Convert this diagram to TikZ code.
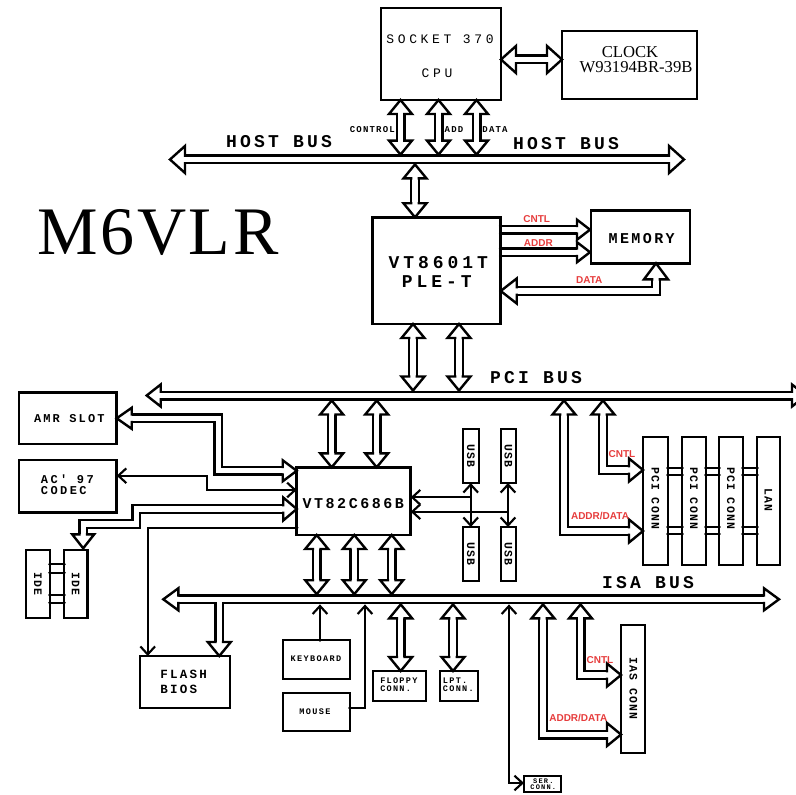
\documentclass[tikz,border=0pt]{standalone}
\usepackage{fontspec}
\usetikzlibrary{arrows.meta}
\newfontfamily\cour{Liberation Mono}
\newfontfamily\arialf{Liberation Sans}
\newfontfamily\timesf{Liberation Serif}
\definecolor{lblred}{RGB}{230,60,60}
\newcommand\bhx[5]{%
  \begin{scope}[shift={(#1,#2)},rotate=#3]
    \fill[white] (0,0) -- (-#4,#5) -- (-#4,-#5) -- cycle;
    \draw[headline] (-#4,3.8) -- (-#4,#5) -- (0,0) -- (-#4,-#5) -- (-#4,-3.8);
  \end{scope}}
\newcommand\bh[3]{\bhx{#1}{#2}{#3}{14}{11.5}}
\newcommand\bx[6]{\node[box,minimum width={(#4-#2)*0.75pt},minimum height={(#5-#3)*0.75pt}] (#1) at ({(#2+#4)/2},{(#3+#5)/2}) {#6};}
\begin{document}
\begin{tikzpicture}[x=0.75pt,y=-0.75pt,
  bus/.style={draw, double=white, double distance=3.9pt, line width=1.8pt, line join=miter},
  headline/.style={line width=1.8pt, line join=miter, line cap=rect},
  box/.style={draw, line width=2.2pt, inner sep=0pt, outer sep=0pt},
  thinln/.style={line width=1.6pt},
  oneway/.style={thinln, -{Straight Barb[length=6pt,width=11pt]}},
  twoway/.style={thinln, {Straight Barb[length=6pt,width=11pt]}-{Straight Barb[length=6pt,width=11pt]}},
  mono/.style 2 args={font=\cour\bfseries\fontsize{#1}{#1}\selectfont\addfontfeatures{LetterSpace=#2}, inner sep=0pt},
  monor/.style 2 args={font=\cour\fontsize{#1}{#1}\selectfont\addfontfeatures{LetterSpace=#2}, inner sep=0pt},
  redlbl/.style={font=\arialf\bfseries\fontsize{7.5}{7.5}\selectfont, text=lblred, inner sep=0pt},
  serif/.style={font=\timesf\fontsize{12.5}{12.5}\selectfont, inner sep=0pt}
]
\useasboundingbox (0,0) rectangle (796,795);
\clip (0,0) rectangle (796,795);

% ---------- buses ----------
\draw[bus] (185,159.5) -- (669,159.5);
\draw[bus] (160.7,395.5) -- (792,395.5);
\draw[bus] (178.3,599.3) -- (764,599.3);

% ---------- hollow shafts ----------
\draw[bus] (516,59.5) -- (547,59.5);
\foreach \x in {400.5,438.5,476.5} \draw[bus] (\x,114) -- (\x,140.8);
\draw[bus] (415,178.2) -- (415,203.3);
\draw[bus] (500.7,229.7) -- (577,229.7);
\draw[bus] (500.7,252.2) -- (577,252.2);
\draw[bus] (656,279.3) -- (656,291) -- (516.7,291);
\foreach \x in {413,459} \draw[bus] (\x,338) -- (\x,376.7);
\foreach \x in {331.7,376.7} \draw[bus] (\x,414.3) -- (\x,453.3);
\draw[bus] (131.7,418.3) -- (218.3,418.3) -- (218.3,470.8) -- (282.7,470.8);
\draw[bus] (283.2,509) -- (136.3,509) -- (136.3,524) -- (83.2,524) -- (83.2,534.3);
\draw[bus] (564,414.3) -- (564,531) -- (629,531);
\draw[bus] (603,414.3) -- (603,470) -- (629,470);
\foreach \x in {316.7,354.3,391.7} \draw[bus] (\x,549) -- (\x,580.4);
\draw[bus] (219.3,601.8) -- (219.3,642);
\foreach \x in {400.7,453} \draw[bus] (\x,618.2) -- (\x,657);
\draw[bus] (543,618.2) -- (543,734.5) -- (607,734.5);
\draw[bus] (580.5,618.2) -- (580.5,675) -- (607,675);

% ---------- hollow heads ----------
\bhx{170}{159.5}{180}{15}{13.5} \bhx{684}{159.5}{0}{15}{13.5}
\bhx{501}{59.5}{180}{15}{13.5} \bhx{562}{59.5}{0}{15}{13.5}
\foreach \x in {400.5,438.5,476.5} {\bh{\x}{100}{90} \bh{\x}{154.6}{-90}}
\bh{415}{164.4}{90} \bh{415}{217.3}{-90}
\bhx{590}{229.7}{0}{13}{10} \bhx{590}{252.2}{0}{13}{10}
\bhx{656}{263.3}{90}{16}{12} \bhx{500.7}{291}{180}{16}{12.5}
\foreach \x in {413,459} {\bh{\x}{324}{90} \bh{\x}{390.5}{-90}}
\bhx{146.7}{395.5}{180}{14}{11} \bhx{806}{395.5}{0}{14}{11}
\foreach \x in {331.7,376.7} {\bh{\x}{400.5}{90} \bh{\x}{467.3}{-90}}
\bhx{116.7}{418.3}{180}{15}{10.5} \bhx{296.7}{470.8}{0}{14}{10.5}
\bhx{296.7}{509}{0}{13.5}{11.5} \bhx{83.2}{548.3}{-90}{14}{11}
\bh{564}{400.5}{90} \bh{643}{531}{0}
\bh{603}{400.5}{90} \bh{643}{470}{0}
\bhx{163.3}{599.3}{180}{15}{11} \bhx{779}{599.3}{0}{15}{11}
\foreach \x in {316.7,354.3,391.7} {\bh{\x}{535}{90} \bh{\x}{594.2}{-90}}
\bh{219.3}{656}{-90}
\foreach \x in {400.7,453} {\bh{\x}{604.4}{90} \bh{\x}{671}{-90}}
\bh{543}{604.4}{90} \bh{621}{734.5}{0}
\bh{580.5}{604.4}{90} \bh{621}{675}{0}

% ---------- thin connectors ----------
\draw[twoway] (116.7,475.7) -- (206.7,475.7) -- (206.7,490) -- (296.7,490);
\draw[oneway] (296.7,527.7) -- (147.7,527.7) -- (147.7,656);
\fill (296.7,527.7) circle[radius=1.4pt];
\draw[oneway] (470.7,497.3) -- (410.7,497.3);
\draw[oneway] (508,511.7) -- (410.7,511.7);
\draw[twoway] (470.7,483) -- (470.7,527);
\draw[twoway] (508,483) -- (508,527);
\draw[oneway] (320,640) -- (320,604.4);
\fill (320,640) circle[radius=1.4pt];
\draw[oneway] (350,708) -- (365,708) -- (365,604.4);
\fill (350,708) circle[radius=1.4pt];
\draw[twoway] (509,604.4) -- (509,783) -- (524,783);
\foreach \y in {225.9,233.5,248.4,256} \fill (500.7,\y) circle[radius=1.4pt];
\foreach \y in {564.3,572.7,595,602.7} {
  \draw[thinln] (50,\y) -- (64,\y);
  \fill (50,\y) circle[radius=1.4pt]; \fill (64,\y) circle[radius=1.4pt];}
\foreach \a/\b in {668/682,706/719,743/757} {
  \foreach \y in {468,475,527,534} {
    \draw[thinln] (\a,\y) -- (\b,\y);
    \fill (\a,\y) circle[radius=1.4pt]; \fill (\b,\y) circle[radius=1.4pt];}}

% ---------- boxes ----------
\bx{cpu}{381}{8}{501}{100}{}
\bx{clock}{562}{31}{697}{99}{}
\bx{nb}{372.7}{217.3}{500.7}{324}{}
\bx{mem}{591}{210.7}{690}{263.3}{}
\bx{amr}{19}{392.3}{116.7}{444}{}
\bx{ac97}{19}{460}{116.7}{512.7}{}
\bx{sb}{296.7}{467.3}{410.7}{535}{}
\bx{ideA}{26}{550}{50}{618}{}
\bx{ideB}{64}{550}{87.3}{618}{}
\bx{usbA}{463}{429}{479}{483}{}
\bx{usbB}{501}{429}{516}{483}{}
\bx{usbC}{463}{527}{479}{581}{}
\bx{usbD}{501}{527}{516}{581}{}
\bx{pciA}{643}{437}{668}{565}{}
\bx{pciB}{682}{437}{706}{565}{}
\bx{pciC}{719}{437}{743}{565}{}
\bx{lan}{757}{437}{780}{565}{}
\bx{flash}{140}{656}{230}{708}{}
\bx{kbd}{283}{640}{350}{679}{}
\bx{mouse}{283}{693}{350}{731}{}
\bx{floppy}{373}{671}{426}{701}{}
\bx{lpt}{440}{671}{478}{701}{}
\bx{ser}{524}{776}{561}{792}{}
\bx{ias}{621}{625}{645}{753}{}

% ---------- texts ----------
\node[monor={9.75}{28}] (tsock) at (440,39) {SOCKET 370};
\node[monor={9.75}{28}] (tcpu) at (437,73) {CPU};
\node[serif] (tclkA) at (630,52) {CLOCK};
\node[serif] (tclkB) at (636,67.5) {W93194BR-39B};
\node[mono={6.75}{13}, anchor=east] (tctl) at (395,130) {CONTROL};
\node[mono={6.75}{13}] (tadd) at (454,130) {ADD};
\node[mono={6.75}{13}] (tdat) at (495,130) {DATA};
\node[mono={13.5}{18}] (thostA) at (279,142) {HOST BUS};
\node[mono={13.5}{18}] (thostB) at (566,144) {HOST BUS};
\node[font=\timesf\fontsize{51}{51}\selectfont, anchor=base, inner sep=0pt] (title) at (158,254) {M\kern2pt6\kern2ptV\kern2ptL\kern2ptR};
\node[mono={13.5}{22}] (tnbA) at (438.3,262.3) {VT8601T};
\node[mono={13.5}{22}] (tnbB) at (436.7,281.7) {PLE-T};
\node[mono={11.25}{16}] (tmem) at (641.7,238.3) {MEMORY};
\node[redlbl] (rcA) at (536.7,219) {CNTL};
\node[redlbl] (raA) at (538.3,243.3) {ADDR};
\node[redlbl] (rdA) at (589.3,280) {DATA};
\node[mono={13.5}{18}] (tpci) at (536,378) {PCI BUS};
\node[mono={9}{18}] (tamr) at (69.3,418.3) {AMR SLOT};
\node[mono={9}{20}, anchor=west] (tacA) at (40.7,479) {AC' 97};
\node[mono={9}{20}, anchor=west] (tacB) at (40.7,491) {CODEC};
\node[mono={11.25}{17}] (tsb) at (353.3,503.3) {VT82C686B};
\node[mono={8.6}{10}, rotate=-90] (tuA) at (471,456) {USB};
\node[mono={8.6}{10}, rotate=-90] (tuB) at (508.5,456) {USB};
\node[mono={8.6}{10}, rotate=-90] (tuC) at (471,554) {USB};
\node[mono={8.6}{10}, rotate=-90] (tuD) at (508.5,554) {USB};
\node[mono={8.6}{10}, rotate=-90] (tpA) at (655.5,498) {PCI CONN};
\node[mono={8.6}{10}, rotate=-90] (tpB) at (694,498) {PCI CONN};
\node[mono={8.6}{10}, rotate=-90] (tpC) at (731,498) {PCI CONN};
\node[mono={8.6}{10}, rotate=-90] (tlan) at (768.5,500) {LAN};
\node[redlbl] (rcB) at (622,454) {CNTL};
\node[redlbl] (raB) at (600,516) {ADDR/DATA};
\node[mono={8.6}{10}, rotate=-90] (tiA) at (38,584) {IDE};
\node[mono={8.6}{10}, rotate=-90] (tiB) at (75.7,584) {IDE};
\node[mono={13.5}{18}] (tisa) at (648,583) {ISA BUS};
\node[mono={9.4}{18}, anchor=west] (tflA) at (160,674) {FLASH};
\node[mono={9.4}{18}, anchor=west] (tflB) at (160,689.3) {BIOS};
\node[mono={6.4}{16}] (tkbd) at (316,658.3) {KEYBOARD};
\node[mono={6.4}{16}] (tmou) at (315,711.7) {MOUSE};
\node[mono={6.4}{15}, anchor=west] (tfdA) at (380,680.7) {FLOPPY};
\node[mono={6.4}{15}, anchor=west] (tfdB) at (380,688.7) {CONN.};
\node[mono={6.4}{15}, anchor=west] (tlpA) at (442.7,680.7) {LPT.};
\node[mono={6.4}{15}, anchor=west] (tlpB) at (442.7,688.7) {CONN.};
\node[mono={5.25}{17}] (tseA) at (543.3,780.7) {SER.};
\node[mono={5.25}{17}] (tseB) at (543.3,787.3) {CONN.};
\node[mono={8.6}{10}, rotate=-90] (tias) at (633.3,688) {IAS CONN};
\node[redlbl] (rcC) at (600,660) {CNTL};
\node[redlbl] (raC) at (578.3,718.3) {ADDR/DATA};
\end{tikzpicture}
\end{document}
